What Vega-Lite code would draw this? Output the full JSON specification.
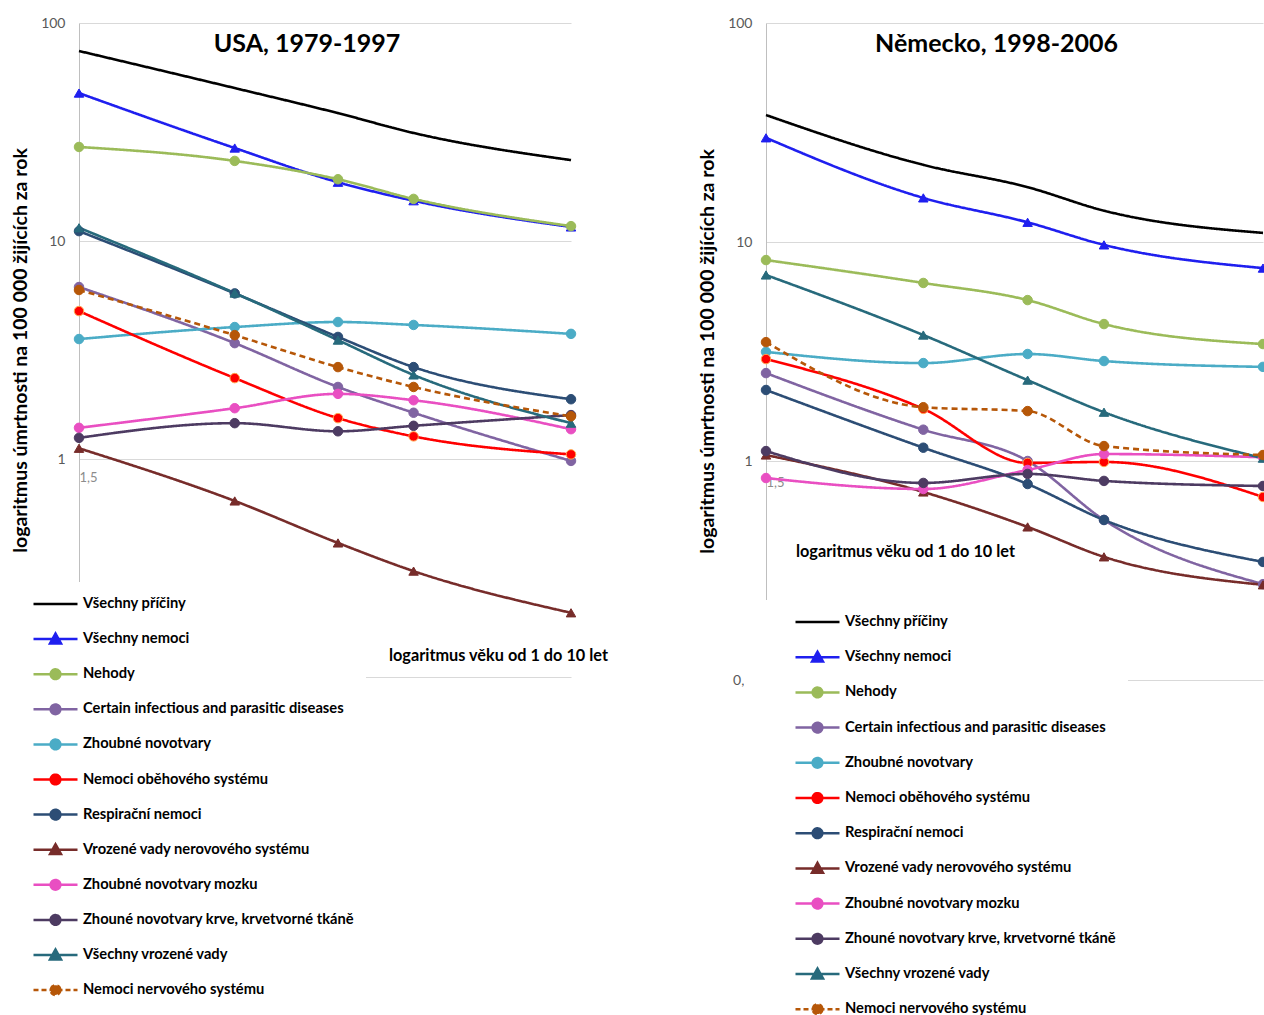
{
  "$schema": "https://vega.github.io/schema/vega-lite/v6.json",
  "padding": {"left": 10, "top": 16, "right": 0, "bottom": 0},
  "background": "white",
  "datasets": {
    "usa": [
      {"pricina": "Všechny příčiny", "vek": 1.5, "hodnota": 74.4},
      {"pricina": "Všechny příčiny", "vek": 3, "hodnota": 50.3},
      {"pricina": "Všechny příčiny", "vek": 4.75, "hodnota": 38.6},
      {"pricina": "Všechny příčiny", "vek": 6.65, "hodnota": 31.3},
      {"pricina": "Všechny příčiny", "vek": 13.4, "hodnota": 23.5},
      {"pricina": "Všechny nemoci", "vek": 1.5, "hodnota": 47.7},
      {"pricina": "Všechny nemoci", "vek": 3, "hodnota": 26.7},
      {"pricina": "Všechny nemoci", "vek": 4.75, "hodnota": 18.6},
      {"pricina": "Všechny nemoci", "vek": 6.65, "hodnota": 15.3},
      {"pricina": "Všechny nemoci", "vek": 13.4, "hodnota": 11.6},
      {"pricina": "Nehody", "vek": 1.5, "hodnota": 27.0},
      {"pricina": "Nehody", "vek": 3, "hodnota": 23.3},
      {"pricina": "Nehody", "vek": 4.75, "hodnota": 19.2},
      {"pricina": "Nehody", "vek": 6.65, "hodnota": 15.6},
      {"pricina": "Nehody", "vek": 13.4, "hodnota": 11.7},
      {"pricina": "Certain infectious and parasitic diseases", "vek": 1.5, "hodnota": 6.15},
      {"pricina": "Certain infectious and parasitic diseases", "vek": 3, "hodnota": 3.40},
      {"pricina": "Certain infectious and parasitic diseases", "vek": 4.75, "hodnota": 2.14},
      {"pricina": "Certain infectious and parasitic diseases", "vek": 6.65, "hodnota": 1.63},
      {"pricina": "Certain infectious and parasitic diseases", "vek": 13.4, "hodnota": 0.98},
      {"pricina": "Zhoubné novotvary", "vek": 1.5, "hodnota": 3.55},
      {"pricina": "Zhoubné novotvary", "vek": 3, "hodnota": 4.03},
      {"pricina": "Zhoubné novotvary", "vek": 4.75, "hodnota": 4.25},
      {"pricina": "Zhoubné novotvary", "vek": 6.65, "hodnota": 4.12},
      {"pricina": "Zhoubné novotvary", "vek": 13.4, "hodnota": 3.75},
      {"pricina": "Nemoci oběhového systému", "vek": 1.5, "hodnota": 4.77},
      {"pricina": "Nemoci oběhového systému", "vek": 3, "hodnota": 2.35},
      {"pricina": "Nemoci oběhového systému", "vek": 4.75, "hodnota": 1.54},
      {"pricina": "Nemoci oběhového systému", "vek": 6.65, "hodnota": 1.27},
      {"pricina": "Nemoci oběhového systému", "vek": 13.4, "hodnota": 1.05},
      {"pricina": "Respirační nemoci", "vek": 1.5, "hodnota": 11.1},
      {"pricina": "Respirační nemoci", "vek": 3, "hodnota": 5.75},
      {"pricina": "Respirační nemoci", "vek": 4.75, "hodnota": 3.63},
      {"pricina": "Respirační nemoci", "vek": 6.65, "hodnota": 2.64},
      {"pricina": "Respirační nemoci", "vek": 13.4, "hodnota": 1.88},
      {"pricina": "Vrozené vady nerovového systému", "vek": 1.5, "hodnota": 1.12},
      {"pricina": "Vrozené vady nerovového systému", "vek": 3, "hodnota": 0.642},
      {"pricina": "Vrozené vady nerovového systému", "vek": 4.75, "hodnota": 0.412},
      {"pricina": "Vrozené vady nerovového systému", "vek": 6.65, "hodnota": 0.306},
      {"pricina": "Vrozené vady nerovového systému", "vek": 13.4, "hodnota": 0.197},
      {"pricina": "Zhoubné novotvary mozku", "vek": 1.5, "hodnota": 1.39},
      {"pricina": "Zhoubné novotvary mozku", "vek": 3, "hodnota": 1.71},
      {"pricina": "Zhoubné novotvary mozku", "vek": 4.75, "hodnota": 1.99},
      {"pricina": "Zhoubné novotvary mozku", "vek": 6.65, "hodnota": 1.86},
      {"pricina": "Zhoubné novotvary mozku", "vek": 13.4, "hodnota": 1.37},
      {"pricina": "Zhouné novotvary krve, krvetvorné tkáně", "vek": 1.5, "hodnota": 1.25},
      {"pricina": "Zhouné novotvary krve, krvetvorné tkáně", "vek": 3, "hodnota": 1.46},
      {"pricina": "Zhouné novotvary krve, krvetvorné tkáně", "vek": 4.75, "hodnota": 1.34},
      {"pricina": "Zhouné novotvary krve, krvetvorné tkáně", "vek": 6.65, "hodnota": 1.42},
      {"pricina": "Zhouné novotvary krve, krvetvorné tkáně", "vek": 13.4, "hodnota": 1.59},
      {"pricina": "Všechny vrozené vady", "vek": 1.5, "hodnota": 11.5},
      {"pricina": "Všechny vrozené vady", "vek": 3, "hodnota": 5.77},
      {"pricina": "Všechny vrozené vady", "vek": 4.75, "hodnota": 3.51},
      {"pricina": "Všechny vrozené vady", "vek": 6.65, "hodnota": 2.43},
      {"pricina": "Všechny vrozené vady", "vek": 13.4, "hodnota": 1.46},
      {"pricina": "Nemoci nervového systému", "vek": 1.5, "hodnota": 5.96},
      {"pricina": "Nemoci nervového systému", "vek": 3, "hodnota": 3.70},
      {"pricina": "Nemoci nervového systému", "vek": 4.75, "hodnota": 2.64},
      {"pricina": "Nemoci nervového systému", "vek": 6.65, "hodnota": 2.14},
      {"pricina": "Nemoci nervového systému", "vek": 13.4, "hodnota": 1.57}
    ],
    "de": [
      {"pricina": "Všechny příčiny", "vek": 1.5, "hodnota": 38.0},
      {"pricina": "Všechny příčiny", "vek": 3, "hodnota": 22.5},
      {"pricina": "Všechny příčiny", "vek": 4.75, "hodnota": 17.8},
      {"pricina": "Všechny příčiny", "vek": 6.65, "hodnota": 13.9},
      {"pricina": "Všechny příčiny", "vek": 13.4, "hodnota": 11.0},
      {"pricina": "Všechny nemoci", "vek": 1.5, "hodnota": 29.9},
      {"pricina": "Všechny nemoci", "vek": 3, "hodnota": 15.9},
      {"pricina": "Všechny nemoci", "vek": 4.75, "hodnota": 12.3},
      {"pricina": "Všechny nemoci", "vek": 6.65, "hodnota": 9.7},
      {"pricina": "Všechny nemoci", "vek": 13.4, "hodnota": 7.6},
      {"pricina": "Nehody", "vek": 1.5, "hodnota": 8.27},
      {"pricina": "Nehody", "vek": 3, "hodnota": 6.50},
      {"pricina": "Nehody", "vek": 4.75, "hodnota": 5.43},
      {"pricina": "Nehody", "vek": 6.65, "hodnota": 4.22},
      {"pricina": "Nehody", "vek": 13.4, "hodnota": 3.42},
      {"pricina": "Certain infectious and parasitic diseases", "vek": 1.5, "hodnota": 2.52},
      {"pricina": "Certain infectious and parasitic diseases", "vek": 3, "hodnota": 1.39},
      {"pricina": "Certain infectious and parasitic diseases", "vek": 4.75, "hodnota": 1.0},
      {"pricina": "Certain infectious and parasitic diseases", "vek": 6.65, "hodnota": 0.538},
      {"pricina": "Certain infectious and parasitic diseases", "vek": 13.4, "hodnota": 0.274},
      {"pricina": "Zhoubné novotvary", "vek": 1.5, "hodnota": 3.15},
      {"pricina": "Zhoubné novotvary", "vek": 3, "hodnota": 2.80},
      {"pricina": "Zhoubné novotvary", "vek": 4.75, "hodnota": 3.08},
      {"pricina": "Zhoubné novotvary", "vek": 6.65, "hodnota": 2.86},
      {"pricina": "Zhoubné novotvary", "vek": 13.4, "hodnota": 2.69},
      {"pricina": "Nemoci oběhového systému", "vek": 1.5, "hodnota": 2.92},
      {"pricina": "Nemoci oběhového systému", "vek": 3, "hodnota": 1.73},
      {"pricina": "Nemoci oběhového systému", "vek": 4.75, "hodnota": 0.98},
      {"pricina": "Nemoci oběhového systému", "vek": 6.65, "hodnota": 0.99},
      {"pricina": "Nemoci oběhového systému", "vek": 13.4, "hodnota": 0.685},
      {"pricina": "Respirační nemoci", "vek": 1.5, "hodnota": 2.11},
      {"pricina": "Respirační nemoci", "vek": 3, "hodnota": 1.15},
      {"pricina": "Respirační nemoci", "vek": 4.75, "hodnota": 0.785},
      {"pricina": "Respirační nemoci", "vek": 6.65, "hodnota": 0.538},
      {"pricina": "Respirační nemoci", "vek": 13.4, "hodnota": 0.346},
      {"pricina": "Vrozené vady nerovového systému", "vek": 1.5, "hodnota": 1.065},
      {"pricina": "Vrozené vady nerovového systému", "vek": 3, "hodnota": 0.722},
      {"pricina": "Vrozené vady nerovového systému", "vek": 4.75, "hodnota": 0.500},
      {"pricina": "Vrozené vady nerovového systému", "vek": 6.65, "hodnota": 0.365},
      {"pricina": "Vrozené vady nerovového systému", "vek": 13.4, "hodnota": 0.272},
      {"pricina": "Zhoubné novotvary mozku", "vek": 1.5, "hodnota": 0.836},
      {"pricina": "Zhoubné novotvary mozku", "vek": 3, "hodnota": 0.745},
      {"pricina": "Zhoubné novotvary mozku", "vek": 4.75, "hodnota": 0.910},
      {"pricina": "Zhoubné novotvary mozku", "vek": 6.65, "hodnota": 1.076},
      {"pricina": "Zhoubné novotvary mozku", "vek": 13.4, "hodnota": 1.04},
      {"pricina": "Zhouné novotvary krve, krvetvorné tkáně", "vek": 1.5, "hodnota": 1.11},
      {"pricina": "Zhouné novotvary krve, krvetvorné tkáně", "vek": 3, "hodnota": 0.794},
      {"pricina": "Zhouné novotvary krve, krvetvorné tkáně", "vek": 4.75, "hodnota": 0.873},
      {"pricina": "Zhouné novotvary krve, krvetvorné tkáně", "vek": 6.65, "hodnota": 0.811},
      {"pricina": "Zhouné novotvary krve, krvetvorné tkáně", "vek": 13.4, "hodnota": 0.769},
      {"pricina": "Všechny vrozené vady", "vek": 1.5, "hodnota": 7.07},
      {"pricina": "Všechny vrozené vady", "vek": 3, "hodnota": 3.76},
      {"pricina": "Všechny vrozené vady", "vek": 4.75, "hodnota": 2.34},
      {"pricina": "Všechny vrozené vady", "vek": 6.65, "hodnota": 1.67},
      {"pricina": "Všechny vrozené vady", "vek": 13.4, "hodnota": 1.03},
      {"pricina": "Nemoci nervového systému", "vek": 1.5, "hodnota": 3.49},
      {"pricina": "Nemoci nervového systému", "vek": 3, "hodnota": 1.76},
      {"pricina": "Nemoci nervového systému", "vek": 4.75, "hodnota": 1.69},
      {"pricina": "Nemoci nervového systému", "vek": 6.65, "hodnota": 1.17},
      {"pricina": "Nemoci nervového systému", "vek": 13.4, "hodnota": 1.065}
    ]
  },
  "bounds": "flush",
  "spacing": 195,
  "resolve": {"scale": {"color": "independent"}, "legend": {"color": "independent"}},
  "hconcat": [
    {
      "width": 492,
      "height": 654,
      "data": {"name": "usa"},
      "title": {"text": "USA, 1979-1997", "frame": "group", "anchor": "middle", "dx": -18, "offset": -41, "fontSize": 25, "font": "Lato", "fontWeight": "bold", "color": "#000000"},
      "layer": [
        {
          "mark": {"type": "line", "interpolate": "monotone", "strokeWidth": 2.6},
          "encoding": {
            "x": {"field": "vek", "type": "quantitative",
              "scale": {"type": "log", "domain": [1.5, 13.4], "nice": false},
              "axis": {"values": [1.5], "labelExpr": "'1,5'", "offset": -218, "domain": false, "ticks": false, "grid": false,
                "labelPadding": 12, "labelColor": "#8C8C8C", "labelFontSize": 13, "labelFont": "Lato",
                "title": "logaritmus věku od 1 do 10 let", "titleX": 419, "titleY": 196, "titleBaseline": "middle", "titleAlign": "center",
                "titleFont": "Lato", "titleFontSize": 16.3, "titleFontWeight": "bold", "titleColor": "#000000"}},
            "y": {"field": "hodnota", "type": "quantitative",
              "scale": {"type": "log", "domain": [0.1, 100], "nice": false},
              "axis": {"values": [0.1, 1, 10, 100], "labelExpr": "replace(datum.label, '.', ',')", "ticks": false, "domain": true,
                "domainColor": "#BFBFBF", "gridColor": "#D9D9D9", "labelPadding": 14, "labelColor": "#595959", "labelFontSize": 14, "labelFont": "Lato",
                "title": "logaritmus úmrtnosti na 100 000 žijících za rok", "titleX": -59, "titleY": 327, "titleAngle": -90, "titleBaseline": "middle", "titleAlign": "center",
                "titleFont": "Lato", "titleFontSize": 19.5, "titleFontWeight": "bold", "titleColor": "#000000"}},
            "color": {"field": "pricina", "type": "nominal",
              "scale": {"domain": ["Všechny příčiny", "Všechny nemoci", "Nehody", "Certain infectious and parasitic diseases", "Zhoubné novotvary", "Nemoci oběhového systému", "Respirační nemoci", "Vrozené vady nerovového systému", "Zhoubné novotvary mozku", "Zhouné novotvary krve, krvetvorné tkáně", "Všechny vrozené vady", "Nemoci nervového systému"],
                "range": ["#000000", "#1F1FEF", "#9BBB59", "#8064A2", "#4BACC6", "#FF0000", "#2C4D75", "#772C2A", "#E94FC2", "#4D3B62", "#276A7C", "#B65708"]},
              "legend": {"orient": "none", "legendX": -59, "legendY": 559, "title": null, "direction": "vertical",
                "fillColor": "#FFFFFF", "padding": 12, "rowPadding": 15.1, "clipHeight": 20,
                "symbolSize": 1936, "symbolStrokeWidth": 2.5,
                "symbolType": {"expr": "datum.value === 'Všechny příčiny' ? 'M-1,0L1,0' : (indexof(['Všechny nemoci', 'Vrozené vady nerovového systému', 'Všechny vrozené vady'], datum.value) >= 0 ? 'M-1,0L1,0M0,-0.25L0.25,0.2L-0.25,0.2Z' : 'M-1,0L1,0M0.22,0A0.22,0.22,0,1,1,-0.22,0A0.22,0.22,0,1,1,0.22,0Z')"},
                "symbolFillColor": {"expr": "({'Všechny příčiny': '#000000', 'Všechny nemoci': '#1F1FEF', 'Nehody': '#9BBB59', 'Certain infectious and parasitic diseases': '#8064A2', 'Zhoubné novotvary': '#4BACC6', 'Nemoci oběhového systému': '#FF0000', 'Respirační nemoci': '#2C4D75', 'Vrozené vady nerovového systému': '#772C2A', 'Zhoubné novotvary mozku': '#E94FC2', 'Zhouné novotvary krve, krvetvorné tkáně': '#4D3B62', 'Všechny vrozené vady': '#276A7C', 'Nemoci nervového systému': '#B65708'})[datum.value]"},
                "symbolDash": {"expr": "datum.value === 'Nemoci nervového systému' ? [5, 3] : [1, 0]"},
                "labelFont": "Lato", "labelFontSize": 14.7, "labelFontWeight": "bold", "labelColor": "#000000", "labelOffset": 4, "labelLimit": 400}},
            "strokeDash": {"field": "pricina", "type": "nominal", "legend": null,
              "scale": {"domain": ["Všechny příčiny", "Všechny nemoci", "Nehody", "Certain infectious and parasitic diseases", "Zhoubné novotvary", "Nemoci oběhového systému", "Respirační nemoci", "Vrozené vady nerovového systému", "Zhoubné novotvary mozku", "Zhouné novotvary krve, krvetvorné tkáně", "Všechny vrozené vady", "Nemoci nervového systému"],
                "range": [[1, 0], [1, 0], [1, 0], [1, 0], [1, 0], [1, 0], [1, 0], [1, 0], [1, 0], [1, 0], [1, 0], [6, 4]]}}
          }
        },
        {
          "transform": [{"filter": "datum.pricina !== 'Všechny příčiny'"}],
          "mark": {"type": "point", "filled": true, "opacity": 1, "size": 90, "strokeWidth": 1},
          "encoding": {
            "x": {"field": "vek", "type": "quantitative"},
            "y": {"field": "hodnota", "type": "quantitative"},
            "fill": {"field": "pricina", "type": "nominal", "legend": null,
              "scale": {"domain": ["Všechny příčiny", "Všechny nemoci", "Nehody", "Certain infectious and parasitic diseases", "Zhoubné novotvary", "Nemoci oběhového systému", "Respirační nemoci", "Vrozené vady nerovového systému", "Zhoubné novotvary mozku", "Zhouné novotvary krve, krvetvorné tkáně", "Všechny vrozené vady", "Nemoci nervového systému"],
                "range": ["#000000", "#1F1FEF", "#9BBB59", "#8064A2", "#4BACC6", "#FF0000", "#2C4D75", "#772C2A", "#E94FC2", "#4D3B62", "#276A7C", "#B65708"]}},
            "stroke": {"field": "pricina", "type": "nominal", "legend": null,
              "scale": {"domain": ["Všechny příčiny", "Všechny nemoci", "Nehody", "Certain infectious and parasitic diseases", "Zhoubné novotvary", "Nemoci oběhového systému", "Respirační nemoci", "Vrozené vady nerovového systému", "Zhoubné novotvary mozku", "Zhouné novotvary krve, krvetvorné tkáně", "Všechny vrozené vady", "Nemoci nervového systému"],
                "range": ["#000000", "#1F1FEF", "#9BBB59", "#8064A2", "#4BACC6", "#FFA64D", "#2C4D75", "#772C2A", "#E94FC2", "#4D3B62", "#276A7C", "#B65708"]}},
            "shape": {"field": "pricina", "type": "nominal", "legend": null,
              "scale": {"domain": ["Všechny příčiny", "Všechny nemoci", "Nehody", "Certain infectious and parasitic diseases", "Zhoubné novotvary", "Nemoci oběhového systému", "Respirační nemoci", "Vrozené vady nerovového systému", "Zhoubné novotvary mozku", "Zhouné novotvary krve, krvetvorné tkáně", "Všechny vrozené vady", "Nemoci nervového systému"],
                "range": ["circle", "triangle-up", "circle", "circle", "circle", "circle", "circle", "triangle-up", "circle", "circle", "triangle-up", "circle"]}}
          }
        }
      ]
    },
    {
      "width": 497,
      "height": 657,
      "data": {"name": "de"},
      "title": {"text": "Německo, 1998-2006", "frame": "group", "anchor": "middle", "dx": -18, "offset": -41, "fontSize": 25, "font": "Lato", "fontWeight": "bold", "color": "#000000"},
      "layer": [
        {
          "mark": {"type": "line", "interpolate": "monotone", "strokeWidth": 2.6},
          "encoding": {
            "x": {"field": "vek", "type": "quantitative",
              "scale": {"type": "log", "domain": [1.5, 13.4], "nice": false},
              "axis": {"values": [1.5], "labelExpr": "'1,5'", "offset": -219, "domain": false, "ticks": false, "grid": false,
                "labelPadding": 15, "labelColor": "#8C8C8C", "labelFontSize": 13, "labelFont": "Lato",
                "title": "logaritmus věku od 1 do 10 let", "titleX": 139, "titleY": 90, "titleBaseline": "middle", "titleAlign": "center",
                "titleFont": "Lato", "titleFontSize": 16.3, "titleFontWeight": "bold", "titleColor": "#000000"}},
            "y": {"field": "hodnota", "type": "quantitative",
              "scale": {"type": "log", "domain": [0.1, 100], "nice": false},
              "axis": {"values": [0.1, 1, 10, 100], "labelExpr": "replace(datum.label, '.', ',')", "ticks": false, "domain": true,
                "domainColor": "#BFBFBF", "gridColor": "#D9D9D9", "labelPadding": 14, "labelColor": "#595959", "labelFontSize": 14, "labelFont": "Lato",
                "title": "logaritmus úmrtnosti na 100 000 žijících za rok", "titleX": -59, "titleY": 328, "titleAngle": -90, "titleBaseline": "middle", "titleAlign": "center",
                "titleFont": "Lato", "titleFontSize": 19.5, "titleFontWeight": "bold", "titleColor": "#000000"}},
            "color": {"field": "pricina", "type": "nominal",
              "scale": {"domain": ["Všechny příčiny", "Všechny nemoci", "Nehody", "Certain infectious and parasitic diseases", "Zhoubné novotvary", "Nemoci oběhového systému", "Respirační nemoci", "Vrozené vady nerovového systému", "Zhoubné novotvary mozku", "Zhouné novotvary krve, krvetvorné tkáně", "Všechny vrozené vady", "Nemoci nervového systému"],
                "range": ["#000000", "#1F1FEF", "#9BBB59", "#8064A2", "#4BACC6", "#FF0000", "#2C4D75", "#772C2A", "#E94FC2", "#4D3B62", "#276A7C", "#B65708"]},
              "legend": {"orient": "none", "legendX": -22, "legendY": 577, "title": null, "direction": "vertical",
                "fillColor": "#FFFFFF", "padding": 12, "rowPadding": 15.2, "clipHeight": 20, "symbolOffset": 38,
                "symbolSize": 1936, "symbolStrokeWidth": 2.5,
                "symbolType": {"expr": "datum.value === 'Všechny příčiny' ? 'M-1,0L1,0' : (indexof(['Všechny nemoci', 'Vrozené vady nerovového systému', 'Všechny vrozené vady'], datum.value) >= 0 ? 'M-1,0L1,0M0,-0.25L0.25,0.2L-0.25,0.2Z' : 'M-1,0L1,0M0.22,0A0.22,0.22,0,1,1,-0.22,0A0.22,0.22,0,1,1,0.22,0Z')"},
                "symbolFillColor": {"expr": "({'Všechny příčiny': '#000000', 'Všechny nemoci': '#1F1FEF', 'Nehody': '#9BBB59', 'Certain infectious and parasitic diseases': '#8064A2', 'Zhoubné novotvary': '#4BACC6', 'Nemoci oběhového systému': '#FF0000', 'Respirační nemoci': '#2C4D75', 'Vrozené vady nerovového systému': '#772C2A', 'Zhoubné novotvary mozku': '#E94FC2', 'Zhouné novotvary krve, krvetvorné tkáně': '#4D3B62', 'Všechny vrozené vady': '#276A7C', 'Nemoci nervového systému': '#B65708'})[datum.value]"},
                "symbolDash": {"expr": "datum.value === 'Nemoci nervového systému' ? [5, 3] : [1, 0]"},
                "labelFont": "Lato", "labelFontSize": 14.7, "labelFontWeight": "bold", "labelColor": "#000000", "labelOffset": 4, "labelLimit": 400}},
            "strokeDash": {"field": "pricina", "type": "nominal", "legend": null,
              "scale": {"domain": ["Všechny příčiny", "Všechny nemoci", "Nehody", "Certain infectious and parasitic diseases", "Zhoubné novotvary", "Nemoci oběhového systému", "Respirační nemoci", "Vrozené vady nerovového systému", "Zhoubné novotvary mozku", "Zhouné novotvary krve, krvetvorné tkáně", "Všechny vrozené vady", "Nemoci nervového systému"],
                "range": [[1, 0], [1, 0], [1, 0], [1, 0], [1, 0], [1, 0], [1, 0], [1, 0], [1, 0], [1, 0], [1, 0], [6, 4]]}}
          }
        },
        {
          "transform": [{"filter": "datum.pricina !== 'Všechny příčiny'"}],
          "mark": {"type": "point", "filled": true, "opacity": 1, "size": 90, "strokeWidth": 1},
          "encoding": {
            "x": {"field": "vek", "type": "quantitative"},
            "y": {"field": "hodnota", "type": "quantitative"},
            "fill": {"field": "pricina", "type": "nominal", "legend": null,
              "scale": {"domain": ["Všechny příčiny", "Všechny nemoci", "Nehody", "Certain infectious and parasitic diseases", "Zhoubné novotvary", "Nemoci oběhového systému", "Respirační nemoci", "Vrozené vady nerovového systému", "Zhoubné novotvary mozku", "Zhouné novotvary krve, krvetvorné tkáně", "Všechny vrozené vady", "Nemoci nervového systému"],
                "range": ["#000000", "#1F1FEF", "#9BBB59", "#8064A2", "#4BACC6", "#FF0000", "#2C4D75", "#772C2A", "#E94FC2", "#4D3B62", "#276A7C", "#B65708"]}},
            "stroke": {"field": "pricina", "type": "nominal", "legend": null,
              "scale": {"domain": ["Všechny příčiny", "Všechny nemoci", "Nehody", "Certain infectious and parasitic diseases", "Zhoubné novotvary", "Nemoci oběhového systému", "Respirační nemoci", "Vrozené vady nerovového systému", "Zhoubné novotvary mozku", "Zhouné novotvary krve, krvetvorné tkáně", "Všechny vrozené vady", "Nemoci nervového systému"],
                "range": ["#000000", "#1F1FEF", "#9BBB59", "#8064A2", "#4BACC6", "#FFA64D", "#2C4D75", "#772C2A", "#E94FC2", "#4D3B62", "#276A7C", "#B65708"]}},
            "shape": {"field": "pricina", "type": "nominal", "legend": null,
              "scale": {"domain": ["Všechny příčiny", "Všechny nemoci", "Nehody", "Certain infectious and parasitic diseases", "Zhoubné novotvary", "Nemoci oběhového systému", "Respirační nemoci", "Vrozené vady nerovového systému", "Zhoubné novotvary mozku", "Zhouné novotvary krve, krvetvorné tkáně", "Všechny vrozené vady", "Nemoci nervového systému"],
                "range": ["circle", "triangle-up", "circle", "circle", "circle", "circle", "circle", "triangle-up", "circle", "circle", "triangle-up", "circle"]}}
          }
        }
      ]
    }
  ],
  "config": {
    "view": {"stroke": null},
    "font": "Lato"
  }
}
